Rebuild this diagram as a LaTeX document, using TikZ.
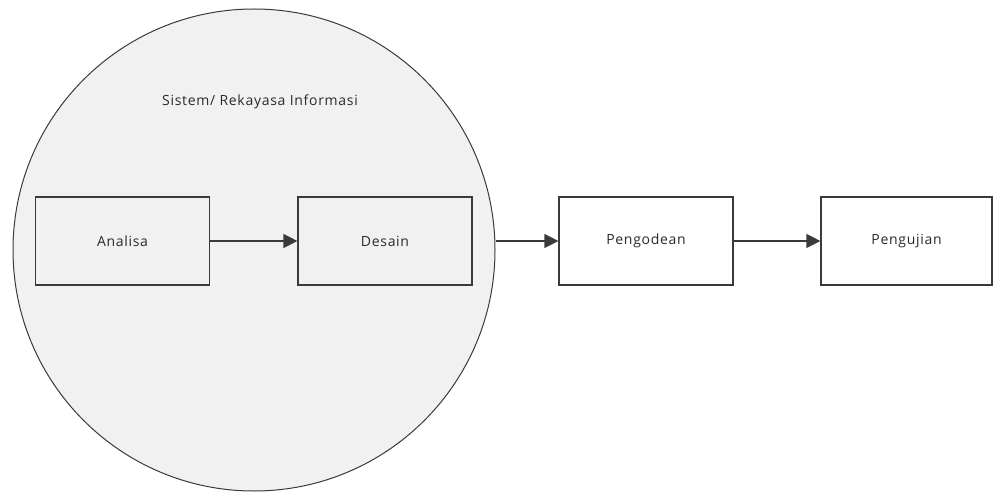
\documentclass[tikz,border=0pt]{standalone}
\usepackage{fontspec}
\setmainfont{Open Sans}[LetterSpace=5]
\usetikzlibrary{arrows.meta,calc}
\definecolor{circfill}{HTML}{F1F1F1}
\definecolor{linec}{HTML}{3A3A3A}
\definecolor{txt}{HTML}{2A2A2A}
\tikzset{
  stagebox/.style={draw=linec, line width=1.2pt, minimum width=174pt, minimum height=88pt, inner sep=0pt, text=txt, font=\fontsize{14}{16}\selectfont},
  flow/.style={draw=linec, line width=1.3pt, -{Triangle[length=14pt,width=14pt]}}
}
\begin{document}
\begin{tikzpicture}[x=1pt,y=1pt]
\useasboundingbox (0,0) rectangle (994,491);
\node[circle, draw=linec, line width=1pt, fill=circfill, minimum size=482pt, inner sep=0pt] (circ) at (254,241) {};
\node[text=txt, font=\fontsize{14}{16}\selectfont] (title) at (260,389) {Sistem/ Rekayasa Informasi};
\node[stagebox] (ana) at (122.5,250) {Analisa};
\node[stagebox] (des) at (385,250) {Desain};
\node[stagebox, fill=white] (pen) at (646,250) {Pengodean};
\node[stagebox, fill=white, minimum width=171pt] (uji) at (906.5,250) {Pengujian};
\draw[flow] (ana.east) -- (des.west);
\draw[flow] (circ.east |- pen.west) -- (pen.west);
\draw[flow] (pen.east) -- (uji.west);
\end{tikzpicture}
\end{document}
